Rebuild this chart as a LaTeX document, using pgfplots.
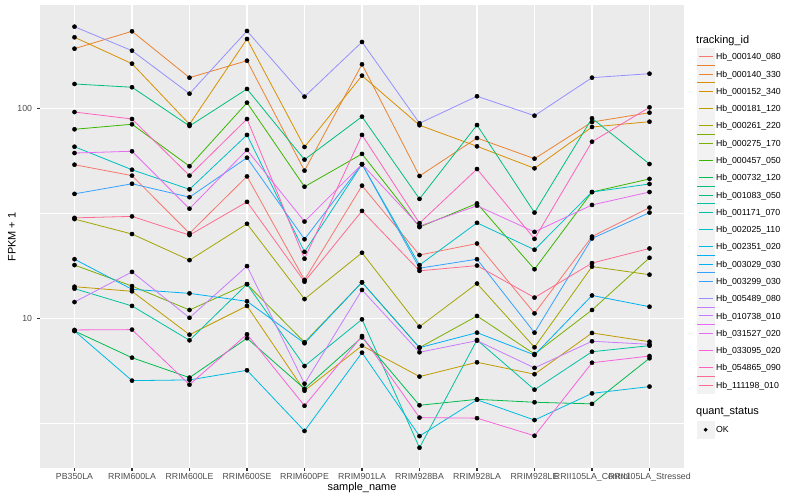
\documentclass[border=0pt]{standalone}
\usepackage{fontspec}
\setmainfont{Liberation Sans}
\usepackage{pgfplots}
\usepackage{pgfplotstable}
\pgfplotsset{compat=1.18}

\definecolor{panelbg}{HTML}{EBEBEB}
\definecolor{keybg}{HTML}{F2F2F2}
\definecolor{ticktext}{HTML}{4D4D4D}
\definecolor{tickcol}{HTML}{333333}
% ggplot hue palette, 20 levels
\definecolor{c1}{HTML}{F8766D}
\definecolor{c2}{HTML}{EA8331}
\definecolor{c3}{HTML}{D89000}
\definecolor{c4}{HTML}{C09B00}
\definecolor{c5}{HTML}{A3A500}
\definecolor{c6}{HTML}{7CAE00}
\definecolor{c7}{HTML}{39B600}
\definecolor{c8}{HTML}{00BB4E}
\definecolor{c9}{HTML}{00BF7D}
\definecolor{c10}{HTML}{00C1A3}
\definecolor{c11}{HTML}{00BFC4}
\definecolor{c12}{HTML}{00BAE0}
\definecolor{c13}{HTML}{00B0F6}
\definecolor{c14}{HTML}{35A2FF}
\definecolor{c15}{HTML}{9590FF}
\definecolor{c16}{HTML}{C77CFF}
\definecolor{c17}{HTML}{E76BF3}
\definecolor{c18}{HTML}{FA62DB}
\definecolor{c19}{HTML}{FF62BC}
\definecolor{c20}{HTML}{FF6C91}

% FPKM + 1, one column per tracking_id, rows = samples 1..11
\pgfplotstableread{
x  s1   s2    s3    s4    s5    s6    s7    s8   s9    s10   s11  s12  s13   s14  s15   s16   s17  s18  s19   s20
1  54.1 193.1 218.8 14.2  29.8  18.0  79.8  8.74 131.1 13.9  65.9 8.74 19.2  39.3 245.7 12.0  61.5 8.84 96.4  30.2
2  48.0 233.6 163.8 13.5  25.3  14.3  84.3  6.52 126.5 11.5  51.2 5.07 13.8  43.9 188.9 16.7  62.7 8.87 89.3  30.7
3  25.5 140.5 84.3  8.39  19.0  11.0  53.2  5.24 82.7  7.89  41.3 5.11 13.2  37.9 117.9 10.1  33.4 4.85 48.0  25.0
4  47.6 169.2 214.7 11.5  28.3  14.6  106.8 8.07 124.1 14.6  75.0 5.68 12.1  58.4 234.4 17.8  63.6 8.43 89.3  36.0
5  15.3 50.7  65.7  4.54  12.4  7.72  42.5  4.64 57.2  5.95  20.8 2.92 7.64  23.9 114.1 4.90  29.0 3.85 19.3  15.0
6  43.0 162.7 143.6 7.44  20.6  14.9  60.9  8.15 91.6  9.93  54.4 6.89 14.9  54.4 207.8 13.7  54.4 8.27 75.0  32.6
7  20.1 47.8  83.4  5.30  9.16  7.28  27.3  3.87 37.2  2.43  18.0 2.76 7.28  17.4 85.2  6.92  27.6 3.38 28.5  16.9
8  22.8 72.5  66.2  6.20  14.7  10.3  35.4  4.13 83.6  7.92  28.6 4.11 8.58  19.2 114.6 7.86  34.5 3.36 51.6  17.9
9  10.6 57.8  52.0  5.44  7.31  6.79  17.2  4.00 32.0  4.59  21.3 3.29 6.72  8.58 92.6  5.83  25.9 2.77 24.0  12.6
10 24.6 86.4  81.8  8.55  17.7  11.0  40.1  3.93 90.0  6.96  40.1 4.41 12.9  24.1 140.5 7.81  34.8 6.17 69.6  18.4
11 33.8 95.7  86.7  7.77  16.2  19.5  46.3  6.48 54.5  7.44  43.8 4.75 11.4  32.0 146.8 7.55  40.1 6.64 101.5 21.6
}\fpkm

\pgfplotsset{
    ggkey/.style={
        scale only axis, width=644bp, height=463bp,
        hide axis, xmin=0, xmax=1, ymin=0, ymax=1,
        legend cell align=left,
        legend style={anchor=north west, draw=none, fill=none,
            inner sep=0pt, outer sep=0pt, row sep=-0.4bp, column sep=1.5bp,
            font=\fontsize{8.8}{10}\selectfont,
            nodes={inner sep=0pt, text height=6.3bp, text depth=0bp, yshift=8.64bp}},
    },
}

\begin{document}
\begin{tikzpicture}
\path[use as bounding box, fill=white] (0,0) rectangle (800bp,500bp);
\begin{axis}[
    at={(40bp,31.5bp)}, anchor=south west,
    scale only axis, width=644bp, height=463bp,
    xmin=0.4, xmax=11.6,
    ymode=log, ymin=1.935, ymax=310,
    axis background/.style={fill=panelbg},
    axis line style={draw=none},
    xtick={1,...,11},
    xticklabels={PB350LA,RRIM600LA,RRIM600LE,RRIM600SE,RRIM600PE,RRIM901LA,RRIM928BA,RRIM928LA,RRIM928LE,RRII105LA\_Control,RRII105LA\_Stressed},
    ytick={10,100}, yticklabels={10,100},
    minor ytick={3.16228,31.6228},
    xmajorgrids, ymajorgrids, yminorgrids,
    major grid style={white, line width=1.07pt},
    minor grid style={white, line width=0.53pt},
    tick align=outside, tick pos=left,
    major tick length=2.75pt, minor tick length=0pt,
    tick style={tickcol, line width=1.07pt},
    ticklabel style={font=\fontsize{8.8}{10}\selectfont, text=ticktext, inner sep=0pt},
    xticklabel style={anchor=base, yshift=-8.75bp},
    yticklabel style={anchor=east, xshift=-4.95bp},
    xlabel={sample\_name}, ylabel={FPKM + 1},
    label style={font=\fontsize{11}{13}\selectfont, inner sep=0pt},
    xlabel style={at={(axis description cs:0.5,0)}, anchor=base, yshift=-22.5bp},
    ylabel style={at={(axis description cs:0,0.5)}, anchor=base, yshift=24.3bp},
]
\pgfplotsinvokeforeach{1,...,20}{
    \addplot[c#1, line width=0.8pt, mark=none] table[x=x, y=s#1] {\fpkm};
}
\pgfplotsinvokeforeach{1,...,20}{
    \addplot[only marks, mark=*, mark size=2.1bp, black] table[x=x, y=s#1] {\fpkm};
}
\end{axis}

% tracking_id legend
\begin{axis}[
    at={(40bp,31.5bp)}, anchor=south west, ggkey,
    legend style={at={(1.0199,0.9085)}},
    legend image code/.code={
        \path (0bp,0bp) rectangle (17.28bp,17.28bp);
        \fill[keybg] (0.5bp,0.5bp) rectangle (16.78bp,16.78bp);
        \draw[#1, line width=0.8pt] (1.7bp,8.64bp) -- (15.5bp,8.64bp);
    },
    legend entries={Hb\_000140\_080,Hb\_000140\_330,Hb\_000152\_340,Hb\_000181\_120,
        Hb\_000261\_220,Hb\_000275\_170,Hb\_000457\_050,Hb\_000732\_120,Hb\_001083\_050,
        Hb\_001171\_070,Hb\_002025\_110,Hb\_002351\_020,Hb\_003029\_030,Hb\_003299\_030,
        Hb\_005489\_080,Hb\_010738\_010,Hb\_031527\_020,Hb\_033095\_020,Hb\_054865\_090,
        Hb\_111198\_010},
]
\pgfplotsinvokeforeach{1,...,20}{\addlegendimage{c#1}}
\end{axis}

% quant_status legend
\begin{axis}[
    at={(40bp,31.5bp)}, anchor=south west, ggkey,
    legend style={at={(1.0199,0.1029)}},
    legend image code/.code={
        \path (0bp,0bp) rectangle (17.28bp,17.28bp);
        \fill[keybg] (0.5bp,0.5bp) rectangle (16.78bp,16.78bp);
        \fill[black] (8.64bp,8.64bp) circle (1.7bp);
    },
]
\addlegendimage{black}
\addlegendentry{OK}
\end{axis}

\node[anchor=base west, inner sep=0pt, font=\fontsize{11}{13}\selectfont] at (696bp,456.7bp) {tracking\_id};
\node[anchor=base west, inner sep=0pt, font=\fontsize{11}{13}\selectfont] at (696bp,85bp) {quant\_status};
\end{tikzpicture}
\end{document}
